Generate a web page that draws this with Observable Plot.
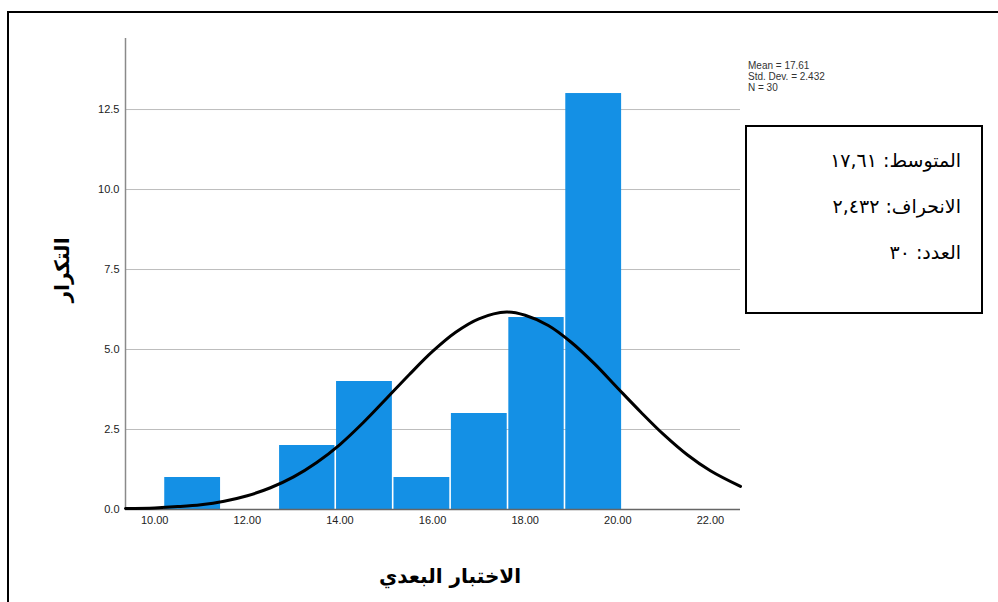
<!DOCTYPE html>
<html>
<head>
<meta charset="utf-8">
<script src="https://cdn.jsdelivr.net/npm/d3@7"></script>
<script src="https://cdn.jsdelivr.net/npm/@observablehq/plot@0.6"></script>
<style>
  html, body { margin: 0; padding: 0; background: #fff; }
  #chart svg { display: block; }
</style>
</head>
<body>
<div id="chart"></div>
<script>
// Histogram bins
const binStarts = [10.20, 11.44, 12.68, 13.91, 15.15, 16.39, 17.63, 18.86];
const binEnds   = [11.44, 12.68, 13.91, 15.15, 16.39, 17.63, 18.86, 20.10];
const counts    = [1, 0, 2, 4, 1, 3, 6, 13];

// Fitted normal curve
const curveX = [9.37, 10.0, 10.5, 11.0, 11.5, 12.0, 12.5, 13.0, 13.5, 14.0, 14.5, 15.0, 15.5, 16.0, 16.5, 17.0, 17.6, 18.0, 18.5, 19.0, 19.5, 20.0, 20.5, 21.0, 21.5, 22.0, 22.65];
const curveY = [0.03, 0.05, 0.09, 0.15, 0.26, 0.43, 0.68, 1.02, 1.47, 2.03, 2.71, 3.46, 4.22, 4.94, 5.54, 5.96, 6.17, 6.07, 5.75, 5.22, 4.55, 3.79, 3.04, 2.33, 1.71, 1.21, 0.72];

const xTicks = [10, 12, 14, 16, 18, 20, 22];
const yTicks = [0, 2.5, 5, 7.5, 10, 12.5];

const statsLines = ["Mean = 17.61", "Std. Dev. = 2.432", "N = 30"];
const boxLines = ["المتوسط: ١٧,٦١", "الانحراف: ٢,٤٣٢", "العدد: ٣٠"];
const xLabel = "الاختبار البعدي";
const yLabel = "التكرار";

const bins = binStarts.map((s, i) => ({x1: s, x2: binEnds[i], y: counts[i]})).filter(d => d.y > 0);
const curve = curveX.map((x, i) => ({x, y: curveY[i]}));

const W = 998, H = 602;
const plot = Plot.plot({
  width: W, height: H,
  marginLeft: 125, marginRight: 258, marginTop: 38, marginBottom: 93,
  style: {fontFamily: "'Liberation Sans', Arial, sans-serif", fontSize: "11px", color: "#222", background: "#fff"},
  x: {domain: [9.37, 22.65], ticks: xTicks, tickFormat: d3.format(".2f"), tickSize: 0, tickPadding: 7, label: null},
  y: {domain: [0, 14.72], ticks: yTicks, tickFormat: d3.format(".1f"), tickSize: 0, tickPadding: 6, label: null},
  marks: [
    Plot.gridY(yTicks, {stroke: "#bdbdbd", strokeOpacity: 1, strokeWidth: 1}),
    Plot.rectY(bins, {x1: "x1", x2: "x2", y: "y", fill: "#1490e5", insetLeft: 0.8, insetRight: 0.8}),
    Plot.ruleX([9.37], {stroke: "#8a8a8a", strokeWidth: 1.5}),
    Plot.ruleY([0], {stroke: "#666", strokeWidth: 1.5}),
    Plot.line(curve, {x: "x", y: "y", stroke: "#000", strokeWidth: 3, curve: "catmull-rom"}),
    Plot.axisX({ticks: xTicks, tickFormat: d3.format(".2f"), tickSize: 0, tickPadding: 7, label: null}),
    Plot.axisY({ticks: yTicks, tickFormat: d3.format(".1f"), tickSize: 0, tickPadding: 6, label: null})
  ]
});
document.getElementById("chart").appendChild(plot);

const svg = d3.select(plot);
// outer frame lines
svg.append("line").attr("x1", 8).attr("x2", W).attr("y1", 12).attr("y2", 12).attr("stroke", "#000").attr("stroke-width", 2);
svg.append("line").attr("x1", 8).attr("x2", 8).attr("y1", 11).attr("y2", H).attr("stroke", "#000").attr("stroke-width", 2);

// stats text (SPSS)
statsLines.forEach((t, i) => {
  svg.append("text").attr("x", 748).attr("y", 69 + i * 11).attr("text-anchor", "start")
    .attr("font-family", "'Liberation Sans', Arial, sans-serif").attr("font-size", 10).attr("fill", "#333").text(t);
});

// box
svg.append("rect").attr("x", 746).attr("y", 126).attr("width", 236).attr("height", 187)
  .attr("fill", "#fff").attr("stroke", "#000").attr("stroke-width", 2);
boxLines.forEach((t, i) => {
  svg.append("text").attr("x", 961).attr("y", 167 + i * 46)
    .attr("direction", "rtl").attr("text-anchor", "start")
    .attr("font-family", "'DejaVu Sans', sans-serif").attr("font-size", 19).attr("fill", "#000").text(t);
});

// axis titles
svg.append("text").attr("x", 450).attr("y", 583).attr("text-anchor", "middle")
  .attr("direction", "rtl").attr("font-family", "'DejaVu Sans', sans-serif").attr("font-weight", "bold")
  .attr("font-size", 20).attr("fill", "#000").text(xLabel);
svg.append("text").attr("transform", "translate(69,270) rotate(-90)").attr("text-anchor", "middle")
  .attr("direction", "rtl").attr("font-family", "'DejaVu Sans', sans-serif").attr("font-weight", "bold")
  .attr("font-size", 20).attr("fill", "#000").text(yLabel);
</script>
</body>
</html>
